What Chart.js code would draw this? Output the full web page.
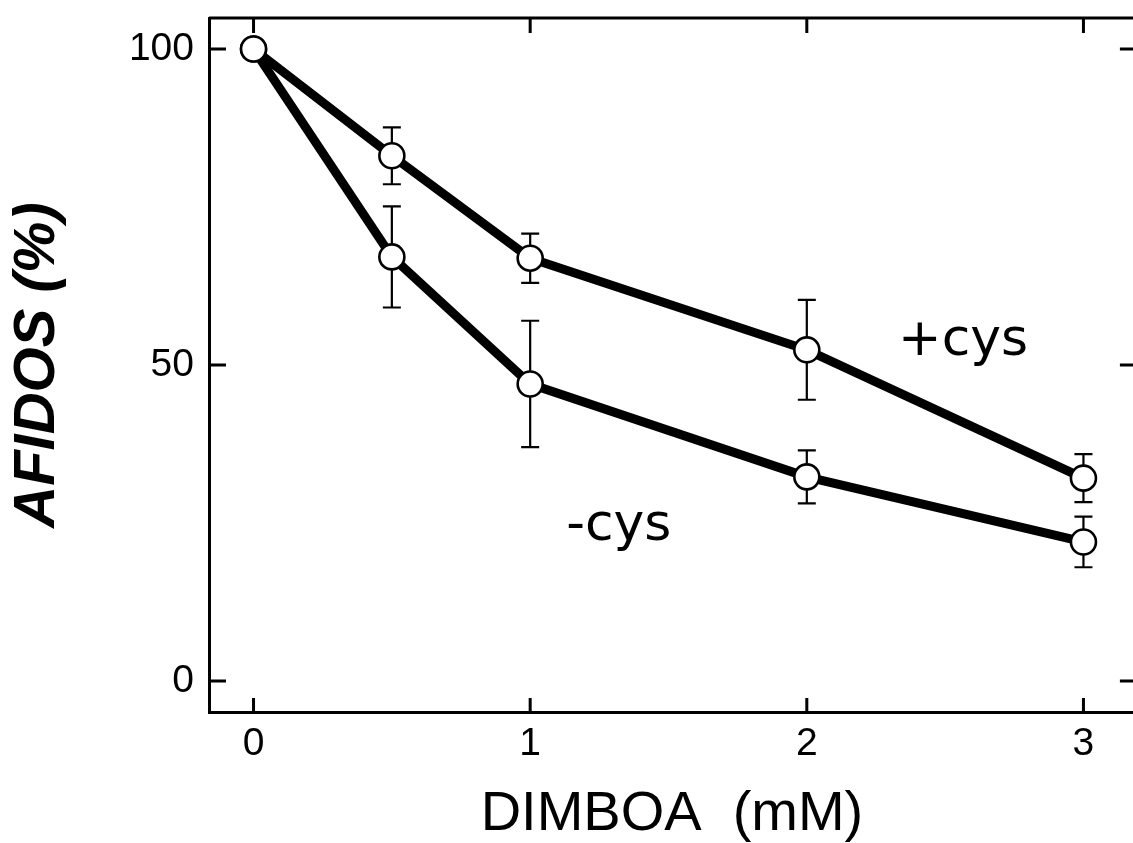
<!DOCTYPE html>
<html>
<head>
<meta charset="utf-8">
<script src="https://cdn.jsdelivr.net/npm/chart.js@4/dist/chart.umd.min.js"></script>
<style>
    html, body { margin: 0; padding: 0; background: #fff; overflow: hidden; }
    #wrap { width: 1133px; height: 843px; overflow: hidden; }
</style>
</head>
<body>
<div id="wrap"><canvas id="chart" width="1150" height="843"></canvas></div>
<script>
const doses = [0, 0.5, 1, 2, 3];
const plusCys = [100, 83.1, 66.9, 52.4, 32.1];
const plusCysErr = [0, 4.5, 3.9, 7.9, 3.8];
const minusCys = [100, 67.1, 47.0, 32.3, 22.0];
const minusCysErr = [0, 8.0, 10.0, 4.2, 4.0];

const xTicks = [0, 1, 2, 3];
const yTicks = [0, 50, 100];

const labelText = ['+cys', '-cys'];
const labelX = [2.33, 1.13];
const labelY = [51.6, 22.3];

const errors = [plusCysErr, minusCysErr];
const sans = "'Liberation Sans', Arial, sans-serif";

// error bars, under the circles
const errorBars = {
    id: 'errorBars',
    beforeDatasetsDraw(chart) {
        const ctx = chart.ctx;
        const y = chart.scales.y;
        ctx.save();
        ctx.strokeStyle = '#000';
        ctx.lineWidth = 2.2;
        chart.data.datasets.forEach((ds, i) => {
            chart.getDatasetMeta(i).data.forEach((pt, j) => {
                const e = errors[i][j];
                if (!e) return;
                const top = y.getPixelForValue(ds.data[j].y + e);
                const bot = y.getPixelForValue(ds.data[j].y - e);
                ctx.beginPath();
                ctx.moveTo(pt.x, top); ctx.lineTo(pt.x, bot);
                ctx.moveTo(pt.x - 9, top); ctx.lineTo(pt.x + 9, top);
                ctx.moveTo(pt.x - 9, bot); ctx.lineTo(pt.x + 9, bot);
                ctx.stroke();
            });
        });
        ctx.restore();
    }
};

// box frame with inward ticks on all four sides
const frame = {
    id: 'frame',
    beforeDatasetsDraw(chart) {
        const { ctx, chartArea: a, scales: { x, y } } = chart;
        ctx.save();
        ctx.strokeStyle = '#000';
        ctx.lineWidth = 3;
        ctx.beginPath();
        ctx.moveTo(a.left, a.top); ctx.lineTo(a.right, a.top); ctx.lineTo(a.right, a.bottom);
        xTicks.forEach(v => {
            const px = x.getPixelForValue(v);
            ctx.moveTo(px, a.bottom); ctx.lineTo(px, a.bottom - 14);
            ctx.moveTo(px, a.top); ctx.lineTo(px, a.top + 15);
        });
        yTicks.forEach(v => {
            const py = y.getPixelForValue(v);
            ctx.moveTo(a.left, py); ctx.lineTo(a.left + 17, py);
            ctx.moveTo(a.right, py); ctx.lineTo(a.right - 15, py);
        });
        ctx.stroke();
        ctx.restore();
    }
};

const curveLabels = {
    id: 'curveLabels',
    afterDatasetsDraw(chart) {
        const { ctx, scales: { x, y } } = chart;
        ctx.save();
        ctx.fillStyle = '#000';
        ctx.font = "52px 'DejaVu Sans', sans-serif";
        ctx.textBaseline = 'alphabetic';
        labelText.forEach((t, i) => {
            ctx.fillText(t, x.getPixelForValue(labelX[i]), y.getPixelForValue(labelY[i]));
        });
        ctx.restore();
    }
};

function series(vals) {
    return doses.map((d, i) => ({ x: d, y: vals[i] }));
}

const lineStyle = {
    borderColor: '#000',
    borderWidth: 9,
    pointRadius: 12.5,
    pointBorderWidth: 2.6,
    pointBackgroundColor: '#fff',
    pointBorderColor: '#000',
    tension: 0,
    clip: false
};

new Chart(document.getElementById('chart'), {
    type: 'line',
    data: {
        datasets: [
            Object.assign({ label: '+cys', data: series(plusCys) }, lineStyle),
            Object.assign({ label: '-cys', data: series(minusCys) }, lineStyle)
        ]
    },
    options: {
        responsive: false,
        animation: false,
        layout: { padding: { top: 18, right: 8, left: 0, bottom: 0 } },
        plugins: { legend: { display: false }, tooltip: { enabled: false } },
        scales: {
            x: {
                type: 'linear',
                min: -0.161,
                max: 3.186,
                afterBuildTicks: s => { s.ticks = xTicks.map(v => ({ value: v })); },
                afterFit: s => { s.height = 131; s.paddingLeft = 0; s.paddingRight = 0; },
                grid: { display: false, drawTicks: false },
                border: { display: true, color: '#000', width: 3 },
                ticks: { color: '#000', padding: 13, font: { family: sans, size: 39, lineHeight: 1 } },
                title: {
                    display: true,
                    text: 'DIMBOA  (mM)',
                    color: '#000',
                    padding: 0,
                    font: { family: sans, size: 56, lineHeight: 1 }
                }
            },
            y: {
                min: -4.9,
                max: 104.9,
                afterBuildTicks: s => { s.ticks = yTicks.map(v => ({ value: v })); },
                afterFit: s => { s.width = 209; s.paddingTop = 0; s.paddingBottom = 0; },
                grid: { display: false, drawTicks: false },
                border: { display: true, color: '#000', width: 3 },
                ticks: { color: '#000', padding: 15, font: { family: sans, size: 39, lineHeight: 1 } },
                title: {
                    display: true,
                    text: 'AFIDOS (%)',
                    color: '#000',
                    padding: { top: 9, bottom: 0 },
                    font: { family: sans, size: 58, weight: 'bold', style: 'italic', lineHeight: 1 }
                }
            }
        }
    },
    plugins: [errorBars, frame, curveLabels]
});
</script>
</body>
</html>
